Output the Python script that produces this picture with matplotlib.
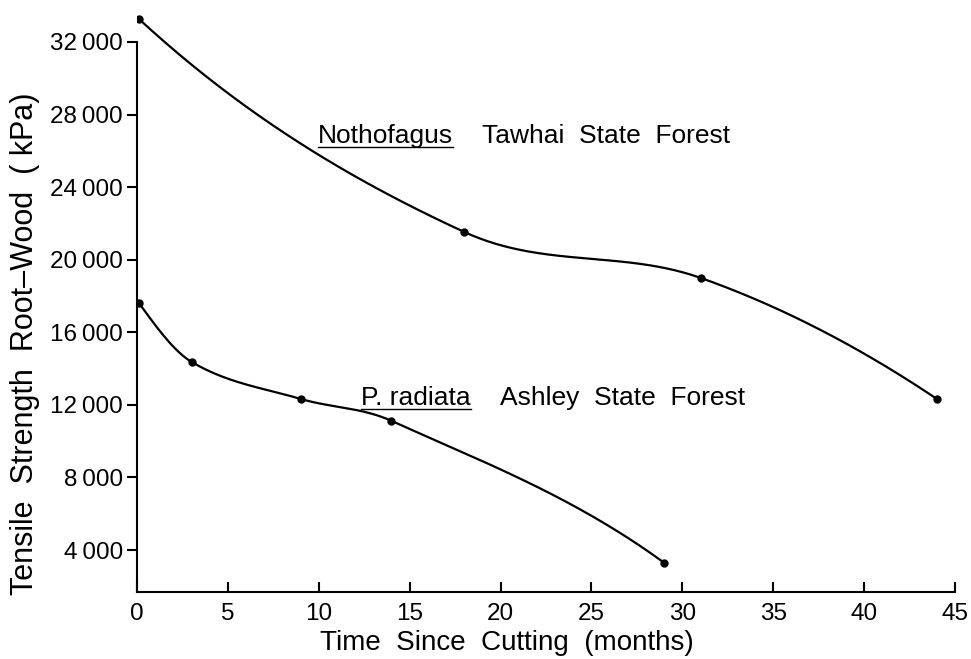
import numpy as np
import matplotlib
matplotlib.use("Agg")
import matplotlib.pyplot as plt
from matplotlib.lines import Line2D

# data
notho_months = [0.1, 18, 31, 44]
notho_kpa = [33270, 21530, 19000, 12330]
radiata_months = [0.1, 3, 9, 14, 29]
radiata_kpa = [17620, 14370, 12330, 11120, 3300]

x_ticks = [0, 5, 10, 15, 20, 25, 30, 35, 40, 45]
y_ticks = [4000, 8000, 12000, 16000, 20000, 24000, 28000, 32000]
y_tick_labels = ["4\u2009000", "8\u2009000", "12\u2009000", "16\u2009000",
                 "20\u2009000", "24\u2009000", "28\u2009000", "32\u2009000"]


def smooth(x, y, xs):
    """Cubic Hermite curve through the points (finite-difference slopes), for drawing."""
    x = np.asarray(x, float)
    y = np.asarray(y, float)
    h = np.diff(x)
    delta = np.diff(y) / h
    n = len(x)
    d = np.zeros(n)
    for k in range(1, n - 1):
        d[k] = (y[k + 1] - y[k - 1]) / (x[k + 1] - x[k - 1])
    d[0] = ((2 * h[0] + h[1]) * delta[0] - h[0] * delta[1]) / (h[0] + h[1])
    d[-1] = ((2 * h[-1] + h[-2]) * delta[-1] - h[-1] * delta[-2]) / (h[-1] + h[-2])
    idx = np.clip(np.searchsorted(x, xs) - 1, 0, n - 2)
    t = (xs - x[idx]) / h[idx]
    h00 = 2 * t**3 - 3 * t**2 + 1
    h10 = t**3 - 2 * t**2 + t
    h01 = -2 * t**3 + 3 * t**2
    h11 = t**3 - t**2
    return (h00 * y[idx] + h10 * h[idx] * d[idx]
            + h01 * y[idx + 1] + h11 * h[idx] * d[idx + 1])


plt.rcParams['font.family'] = ['Liberation Sans', 'DejaVu Sans']
tick_fs = 17.5
note_fs = 19

fig = plt.figure(figsize=(9.71, 6.59), dpi=100)
ax = fig.add_axes([137 / 971, 67 / 659, 818 / 971, 592 / 659])

for xs_, ys_ in [(notho_months, notho_kpa), (radiata_months, radiata_kpa)]:
    xx = np.linspace(xs_[0], xs_[-1], 300)
    ax.plot(xx, smooth(xs_, ys_, xx), color="black", lw=1.6, solid_capstyle="round")
    ax.plot(xs_, ys_, "o", color="black", ms=5)

ylo, yhi = 1690, 34310
ax.set_xlim(0, 45)
ax.set_ylim(ylo, yhi)
ax.spines["top"].set_visible(False)
ax.spines["right"].set_visible(False)
ax.spines["left"].set_bounds(ylo, 32000)
ax.spines["left"].set_linewidth(1.5)
ax.spines["bottom"].set_linewidth(1.5)

ax.set_xticks(x_ticks)
ax.set_xticklabels([str(v) for v in x_ticks])
ax.set_yticks(y_ticks)
ax.set_yticklabels(y_tick_labels)
ax.tick_params(axis="x", direction="in", length=7, width=1.5, labelsize=tick_fs, pad=8)
ax.tick_params(axis="y", direction="out", length=7, width=1.5, labelsize=tick_fs, pad=3)

ax.set_xlabel("Time  Since  Cutting  (months)", fontsize=20)
ax.xaxis.set_label_coords(0.452, -0.064)
ax.set_ylabel("Tensile  Strength  Root\u2013Wood  ( kPa)", fontsize=22)
ax.yaxis.set_label_coords(-0.119, 0.42)

t1 = ax.text(9.95, 26430, "Nothofagus", fontsize=note_fs, va="baseline")
ax.annotate("Tawhai  State  Forest", xy=(1, 0), xycoords=t1,
            xytext=(21, 0), textcoords="offset points", fontsize=note_fs, va="bottom")
t2 = ax.text(12.35, 12000, "P. radiata", fontsize=note_fs, va="baseline")
ax.annotate("Ashley  State  Forest", xy=(1, 0), xycoords=t2,
            xytext=(21, 0), textcoords="offset points", fontsize=note_fs, va="bottom")

# underline the genus names
fig.canvas.draw()
r = fig.canvas.get_renderer()
for t in (t1, t2):
    bb = t.get_window_extent(r)
    yb = bb.y0 + 1
    fig.add_artist(Line2D([bb.x0 / fig.bbox.width, bb.x1 / fig.bbox.width],
                          [yb / fig.bbox.height, yb / fig.bbox.height],
                          color="black", lw=1.0))

fig.savefig("out.png", dpi=100)
